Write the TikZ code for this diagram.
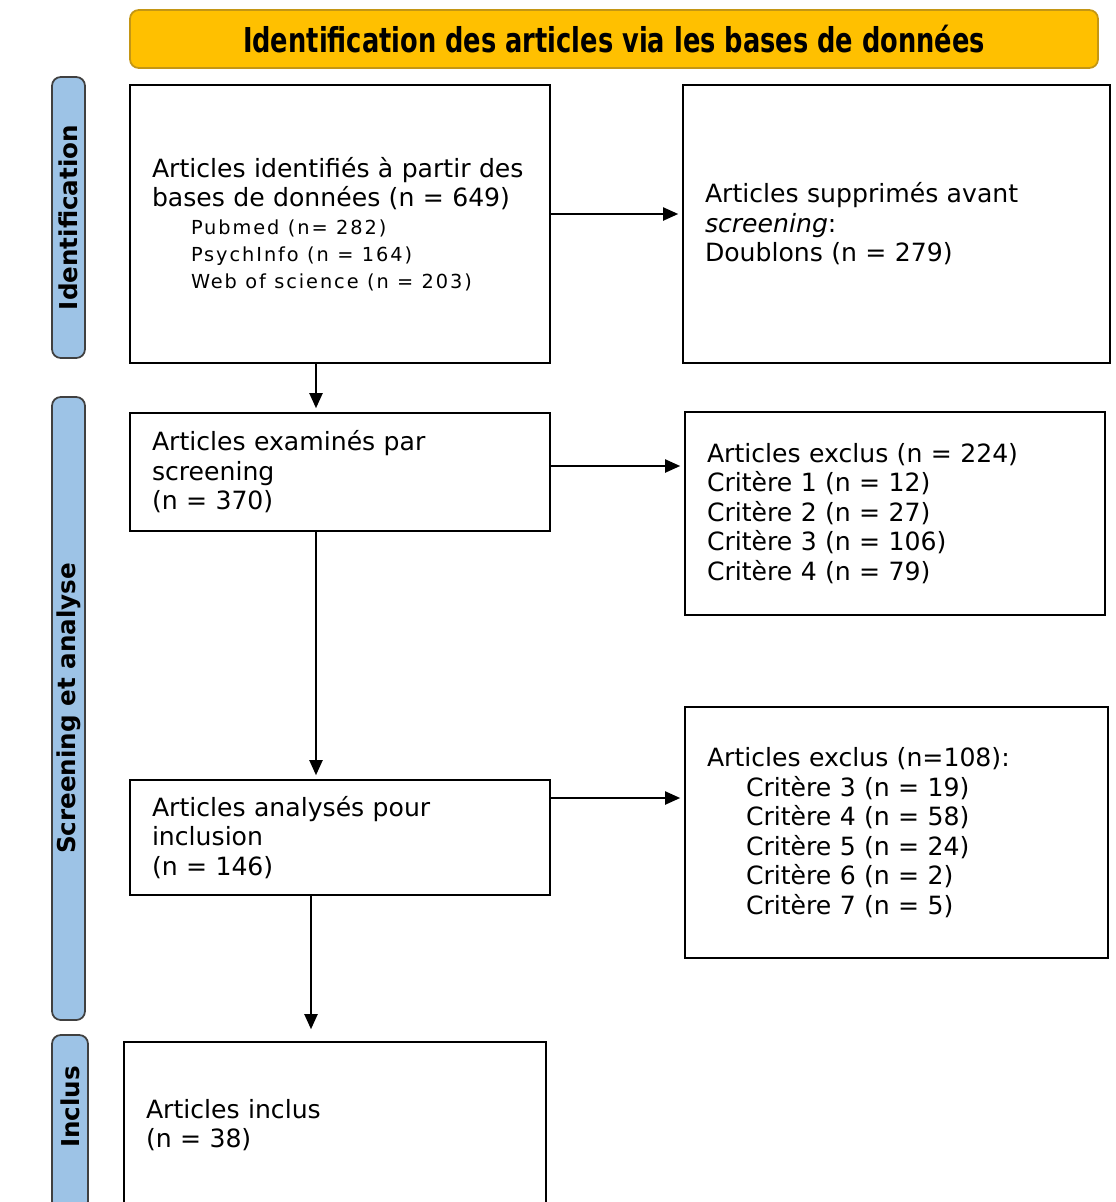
\documentclass[tikz,border=0pt]{standalone}
\usepackage{fontspec}
\setmainfont{DejaVu Sans}
\newfontfamily\bannerfont[FakeStretch=0.75]{DejaVu Sans}
\usetikzlibrary{arrows.meta}
\definecolor{bannerfill}{RGB}{255,192,0}
\definecolor{bannerline}{RGB}{196,150,20}
\definecolor{sideblue}{RGB}{157,195,230}
\newcommand{\subfont}{\fontsize{11}{15.4}\selectfont\addfontfeatures{LetterSpace=10}}
\newcommand{\ind}{\hspace*{0.78cm}}

\begin{document}
\begin{tikzpicture}[
  box/.style={draw, line width=0.9pt, inner xsep=0.44cm, inner ysep=0pt, align=left,
    font=\fontsize{14.3}{16.8}\selectfont},
  banner/.style={draw=bannerline, fill=bannerfill, line width=1pt, rounded corners=5pt,
    minimum width=19.36cm, minimum height=1.16cm, inner sep=0pt,
    font=\bannerfont\bfseries\fontsize{19.5}{22}\selectfont},
  side/.style={draw=black!75, fill=sideblue, line width=1pt, rounded corners=5pt, rotate=90,
    minimum height=0.66cm, inner sep=0pt, font=\bfseries\fontsize{14}{16}\selectfont},
  arr/.style={-{Triangle[length=3mm,width=2.6mm]}, line width=1.1pt, shorten >=0.08cm}]
\useasboundingbox (0,0) rectangle (22.3,-24.04);
\clip (0,0) rectangle (22.3,-24.04);
\fill[white] (0,0) rectangle (22.3,-24.04);
\node[banner] (head) at (12.28,-0.78) {Identification des articles via les bases de données};
\node[side, minimum width=5.62cm] (sideid) at (1.37,-4.35) {Identification};
\node[side, minimum width=12.46cm] (sidescr) at (1.37,-14.17) {Screening et analyse};
\node[side, minimum width=3.5cm, minimum height=0.72cm] (sideinc) at (1.40,-22.45) {\hspace*{0.62cm}Inclus};
\node[box, text width=7.52cm, minimum height=5.56cm] (ident) at (6.8,-4.48)
  {Articles identifiés à partir des\\ bases de données (n = 649)\par
   {\subfont\ind Pubmed (n= 282)\\ \ind PsychInfo (n = 164)\\ \ind Web of science (n = 203)\par}};
\node[box, text width=7.66cm, minimum height=5.56cm] (dup) at (17.93,-4.48)
  {Articles supprimés avant\\ \textit{screening}:\\ Doublons (n = 279)};
\node[box, text width=7.52cm, minimum height=2.36cm] (screen) at (6.8,-9.44)
  {Articles examinés par\\ screening\\ (n = 370)};
\node[box, text width=7.52cm, minimum height=4.06cm] (exclA) at (17.9,-10.27)
  {Articles exclus (n = 224)\\ Critère 1 (n = 12)\\ Critère 2 (n = 27)\\ Critère 3 (n = 106)\\ Critère 4 (n = 79)};
\node[box, text width=7.52cm, minimum height=2.3cm] (anal) at (6.8,-16.75)
  {Articles analysés pour\\ inclusion\\ (n = 146)};
\node[box, text width=7.58cm, minimum height=5.02cm] (exclB) at (17.93,-16.65)
  {Articles exclus (n=108):\\ \ind Critère 3 (n = 19)\\ \ind Critère 4 (n = 58)\\ \ind Critère 5 (n = 24)\\ \ind Critère 6 (n = 2)\\ \ind Critère 7 (n = 5)};
\node[box, text width=7.56cm, minimum height=3.32cm] (incl) at (6.7,-22.5)
  {Articles inclus\\ (n = 38)};
\draw[arr] ([yshift=2mm]ident.east) -- ([yshift=2mm]ident.east -| dup.west);
\draw[arr] ([xshift=-4.8mm]ident.south) -- ([xshift=-4.8mm]screen.north);
\draw[arr] ([yshift=1.2mm]screen.east) -- ([yshift=1.2mm]screen.east -| exclA.west);
\draw[arr] ([xshift=-4.8mm]screen.south) -- ([xshift=-4.8mm]anal.north);
\draw[arr] ([yshift=7.9mm]anal.east) -- ([yshift=7.9mm]anal.east -| exclB.west);
\draw[arr, shorten >=0.24cm] ([xshift=-5.8mm]anal.south) -- ([xshift=-5.8mm]anal.south |- incl.north);
\end{tikzpicture}
\end{document}
